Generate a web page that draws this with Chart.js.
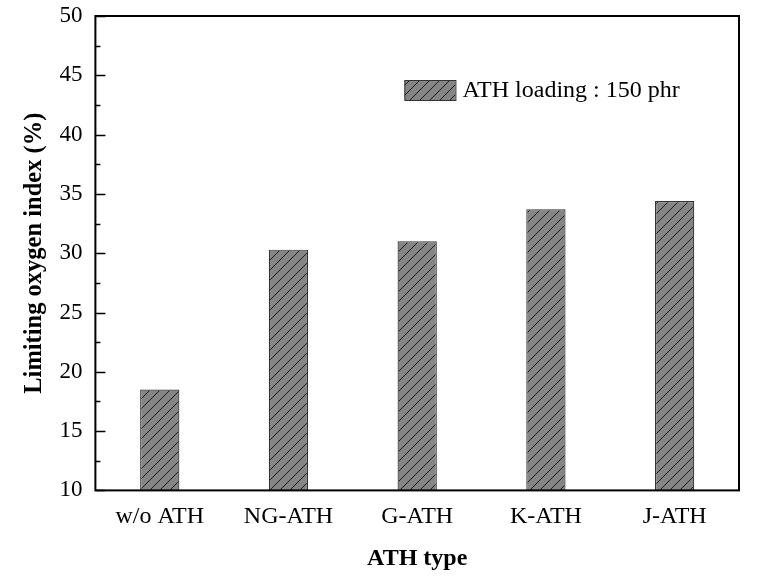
<!DOCTYPE html>
<html>
<head>
<meta charset="utf-8">
<script src="https://cdn.jsdelivr.net/npm/chart.js@4/dist/chart.umd.min.js"></script>
<style>
html,body{margin:0;padding:0;background:#fff;}
#wrap{width:760px;height:584px;}
</style>
</head>
<body>
<div id="wrap"><canvas id="c" width="760" height="584"></canvas></div>
<script>
const categories = ["w/o ATH", "NG-ATH", "G-ATH", "K-ATH", "J-ATH"];
const loi = [18.5, 30.3, 31.0, 33.7, 34.4];
const seriesLabel = "ATH loading : 150 phr";
const yTitle = "Limiting oxygen index (%)";
const xTitle = "ATH type";
const yMin = 10, yMax = 50, yStep = 5;

function makeHatch(){
  const s = 10;
  const p = document.createElement('canvas');
  p.width = s; p.height = s;
  const g = p.getContext('2d');
  g.fillStyle = '#858585';
  g.fillRect(0,0,s,s);
  g.strokeStyle = '#1e1e1e';
  g.lineWidth = 1;
  g.beginPath();
  g.moveTo(-1, s+1); g.lineTo(s+1, -1);
  g.moveTo(-1-s, s+1); g.lineTo(1, -1);
  g.moveTo(s-1, s+1); g.lineTo(2*s+1, -1);
  g.stroke();
  return document.getElementById('c').getContext('2d').createPattern(p,'repeat');
}
const hatch = makeHatch();
const FONT = "'Liberation Serif', 'Times New Roman', serif";

const framePlugin = {
  id: 'frame',
  afterDraw(chart){
    const {ctx, chartArea:a, scales:{y}} = chart;
    ctx.save();
    ctx.strokeStyle = '#000';
    ctx.lineWidth = 1.3;
    ctx.beginPath();
    for (let v = yMin; v <= yMax; v += yStep/2){
      const py = Math.round(y.getPixelForValue(v)) + 0.5;
      const major = Math.abs((v - yMin) % yStep) < 1e-6;
      const len = major ? 10 : 5;
      ctx.moveTo(a.left, py); ctx.lineTo(a.left + len, py);
    }
    ctx.stroke();
    ctx.lineWidth = 2;
    ctx.strokeRect(a.left, a.top, a.right - a.left, a.bottom - a.top);
    // legend inside
    const bx = a.left + 309, by = a.top + 64, bw = 51, bh = 20;
    ctx.fillStyle = hatch;
    ctx.fillRect(bx, by, bw, bh);
    ctx.lineWidth = 1;
    ctx.strokeStyle = '#333';
    ctx.strokeRect(bx + 0.5, by + 0.5, bw, bh);
    ctx.fillStyle = '#000';
    ctx.font = "24px " + FONT;
    ctx.textBaseline = 'middle';
    ctx.textAlign = 'left';
    ctx.fillText(chart.data.datasets[0].label, bx + bw + 7, by + bh/2 + 1);
    ctx.restore();
  }
};

new Chart(document.getElementById('c'), {
  type: 'bar',
  data: {
    labels: categories,
    datasets: [{
      label: seriesLabel,
      data: loi,
      backgroundColor: hatch,
      borderColor: '#333',
      borderWidth: 1.2,
      barPercentage: 0.305,
      categoryPercentage: 1.0
    }]
  },
  options: {
    responsive: false,
    animation: false,
    layout: { padding: { left: 20, right: 21, top: 16, bottom: 11 } },
    plugins: { legend: { display: false }, tooltip: { enabled: false } },
    scales: {
      x: {
        grid: { display: false, drawTicks: false },
        border: { display: false },
        ticks: { color: '#000', font: { family: FONT, size: 24 }, padding: 12 },
        title: { display: true, text: xTitle, color: '#000', font: { family: FONT, size: 24, weight: 'bold' }, padding: { top: 1, bottom: 0 } }
      },
      y: {
        min: yMin, max: yMax,
        grid: { display: false, drawTicks: false },
        border: { display: false },
        ticks: { stepSize: yStep, color: '#000', font: { family: FONT, size: 23 }, padding: 13 },
        title: { display: true, text: yTitle, color: '#000', font: { family: FONT, size: 24.5, weight: 'bold' }, padding: { top: 0, bottom: -3 } },
        afterFit(scale){ scale.paddingTop = 0; scale.paddingBottom = 0; }
      }
    }
  },
  plugins: [framePlugin]
});
</script>
</body>
</html>
